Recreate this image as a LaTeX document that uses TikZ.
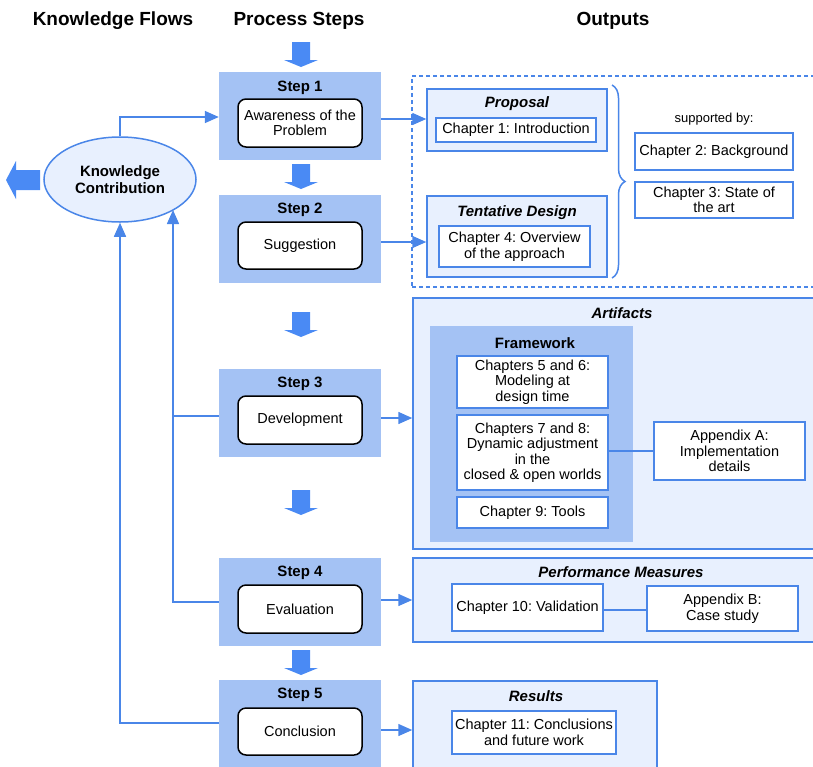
\documentclass[tikz,border=0pt]{standalone}
\usepackage{fontspec}
\setmainfont{Liberation Sans}
\usetikzlibrary{arrows.meta,decorations.pathreplacing,shapes.geometric}

\definecolor{flowblue}{HTML}{4A86E8}
\definecolor{bigarrow}{HTML}{4A8AF4}
\definecolor{stepfill}{HTML}{A4C2F4}
\definecolor{outfill}{HTML}{E8F0FE}

\tikzset{
  every node/.style={font=\fontsize{14.5}{15.5}\selectfont, align=center, text=black},
  % box given by centre x, centre y, width, height
  rbox/.style n args={4}{at={(#1,#2)}, minimum width=#3, minimum height=#4, inner sep=0pt},
  heading/.style={font=\bfseries\fontsize{19}{22}\selectfont},
  steplabel/.style={font=\bfseries\fontsize{15}{17}\selectfont},
  outtitle/.style={font=\bfseries\itshape\fontsize{15}{17}\selectfont},
  stepbox/.style={fill=stepfill, draw=none},
  taskbox/.style={fill=white, draw=black, line width=1.5pt, rounded corners=8pt},
  outbox/.style={fill=outfill, draw=flowblue, line width=1.5pt},
  chapbox/.style={fill=white, draw=flowblue, line width=1.5pt},
  fwbox/.style={fill=stepfill, draw=none},
  supbox/.style={draw=flowblue, line width=1.5pt, dash pattern=on 4pt off 3pt},
  flow/.style={draw=flowblue, line width=1.5pt},
  flowarrow/.style={flow, -{Triangle[length=14pt,width=12pt]}},
  downarrow/.pic={\fill[bigarrow] (-9,0) -- (9,0) -- (9,18) -- (17,18) -- (0,25)
                   -- (-17,18) -- (-9,18) -- cycle;}
}

\begin{document}
\frenchspacing
\begin{tikzpicture}[x=1pt, y=-1pt]
\useasboundingbox (0,0) rectangle (813,766);

% column headings
\node[heading] (hflows) at (113,21) {Knowledge Flows};
\node[heading] (hsteps) at (299,21) {Process Steps};
\node[heading] (hout)   at (613,21) {Outputs};

% process steps
\pic at (301,42) {downarrow};
\node[stepbox, rbox={300}{116}{162}{88}] (s1) {};
\node[steplabel] (s1l) at (300,88) {Step 1};
\node[taskbox, rbox={300}{123}{124}{48}] (t1) {Awareness of the\\Problem};

\pic at (301,164) {downarrow};
\node[stepbox, rbox={300}{239}{162}{88}] (s2) {};
\node[steplabel] (s2l) at (300,210) {Step 2};
\node[taskbox, rbox={300}{245.5}{124}{47}] (t2) {Suggestion};

\pic at (301,312) {downarrow};
\node[stepbox, rbox={300}{413}{162}{88}] (s3) {};
\node[steplabel] (s3l) at (300,384) {Step 3};
\node[taskbox, rbox={300}{420}{124}{48}] (t3) {Development};

\pic at (301,490) {downarrow};
\node[stepbox, rbox={300}{602}{162}{88}] (s4) {};
\node[steplabel] (s4l) at (300,573) {Step 4};
\node[taskbox, rbox={300}{609}{124}{48}] (t4) {Evaluation};

\pic at (301,650) {downarrow};
\node[stepbox, rbox={300}{725}{162}{90}] (s5) {};
\node[steplabel] (s5l) at (300,695) {Step 5};
\node[taskbox, rbox={300}{731.5}{124}{47}] (t5) {Conclusion};

% knowledge contribution
\node[ellipse, draw=flowblue, fill=outfill, line width=1.5pt, minimum width=152,
      minimum height=85, inner sep=0pt, font=\bfseries\fontsize{15}{17}\selectfont]
      (kc) at (120,179.5) {Knowledge\\Contribution};
\fill[bigarrow] (40,170) -- (16,170) -- (16,161) -- (6,180) -- (16,199) -- (16,190)
      -- (40,190) -- cycle;

% knowledge flows
\coordinate (kcup) at (120,117);
\coordinate (kcin) at (173,210);
\draw[flowarrow] (kc.north) -- (kcup) -- (kcup -| s1.west);
\draw[flowarrow] (s5.west |- 0,723) -| (kc.south);
\draw[flowarrow] (s4.west |- 0,602) -| (kcin);
\draw[flow] (s3.west |- 0,416) -- (kcin |- 0,416);

% outputs: proposal and tentative design
\node[supbox, rbox={614}{181.5}{404}{211}] (sup) {};
\node[outbox, rbox={517}{120}{180}{62}] (prop) {};
\node[outtitle] (propl) at (517,104) {Proposal};
\node[chapbox, rbox={516}{130}{160}{24}] (ch1) {Chapter 1: Introduction};
\node[outbox, rbox={517}{236.5}{180}{81}] (tent) {};
\node[outtitle] (tentl) at (517,213) {Tentative Design};
\node[chapbox, rbox={514.5}{246.5}{151}{41}] (ch4) {Chapter 4: Overview\\of the approach};
\draw[flow, decorate, decoration={brace, amplitude=13pt}] (612,85) -- (612,278);
\node[font=\fontsize{13}{15}\selectfont] (supl) at (714,119) {supported by:};
\node[chapbox, rbox={714}{151.5}{158}{37}] (ch2) {Chapter 2: Background};
\node[chapbox, rbox={714}{200}{158}{36}] (ch3) {Chapter 3: State of\\the art};

% outputs: artifacts
\node[outbox, rbox={614.5}{423.5}{403}{251}] (art) {};
\node[outtitle] (artl) at (622,313) {Artifacts};
\node[fwbox, rbox={531.5}{434}{203}{216}] (fw) {};
\node[steplabel] (fwl) at (535,343) {Framework};
\node[chapbox, rbox={532.5}{382}{151}{52}] (ch56) {Chapters 5 and 6:\\Modeling at\\design time};
\node[chapbox, rbox={532.5}{452.5}{151}{75}] (ch78) {Chapters 7 and 8:\\Dynamic adjustment\\in the\\closed \& open worlds};
\node[chapbox, rbox={532.5}{512.5}{151}{31}] (ch9) {Chapter 9: Tools};
\node[chapbox, rbox={729.5}{451}{151}{58}] (appa) {Appendix A:\\Implementation\\details};
\draw[flow] (appa.west -| ch78.east) -- (appa.west);

% outputs: performance measures
\node[outbox, rbox={614.5}{600}{403}{84}] (perf) {};
\node[outtitle] (perfl) at (621,572) {Performance Measures};
\node[chapbox, rbox={527.5}{607.5}{151}{47}] (ch10) {Chapter 10: Validation};
\node[chapbox, rbox={722.5}{608.5}{151}{45}] (appb) {Appendix B:\\Case study};
\draw[flow] (ch10.east |- 0,610) -- (appb.west |- 0,610);

% outputs: results
\node[outbox, rbox={535}{726.5}{244}{91}] (res) {};
\node[outtitle] (resl) at (536,696) {Results};
\node[chapbox, rbox={534}{732.5}{164}{43}] (ch11) {Chapter 11: Conclusions\\and future work};

% steps to outputs
\draw[flowarrow] (s1.east |- 0,119) -- (prop.west |- 0,119);
\draw[flowarrow] (s2.east |- 0,242) -- (tent.west |- 0,242);
\draw[flowarrow] (s3.east |- 0,418) -- (art.west |- 0,418);
\draw[flowarrow] (s4.east |- 0,600) -- (perf.west |- 0,600);
\draw[flowarrow] (s5.east |- 0,730) -- (res.west |- 0,730);
\end{tikzpicture}
\end{document}
